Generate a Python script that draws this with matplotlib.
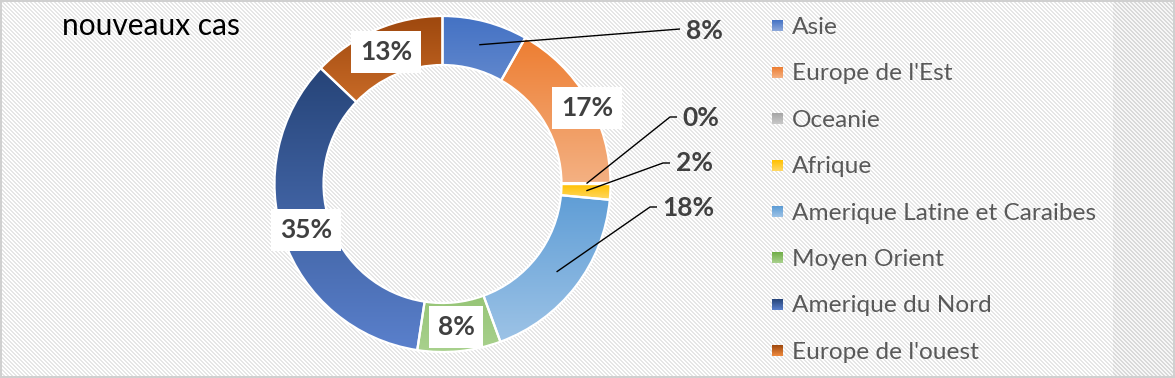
import numpy as np
import matplotlib
matplotlib.use("Agg")
import matplotlib.pyplot as plt
from matplotlib.colors import to_rgb

# ---------------- data ----------------
categories = ["Asie", "Europe de l'Est", "Oceanie", "Afrique",
              "Amerique Latine et Caraibes", "Moyen Orient",
              "Amerique du Nord", "Europe de l'ouest"]
values = [8.2, 16.7, 0.1, 1.5, 17.9, 8.0, 34.7, 12.9]
pct_labels = ["8%", "17%", "0%", "2%", "18%", "8%", "35%", "13%"]
title = "nouveaux cas"

# gradient colours (top, bottom)
grad_top = ["#4472C4", "#ED7D31", "#A5A5A5", "#FFC000",
            "#5B9BD5", "#70AD47", "#264478", "#9E480E"]
grad_bot = ["#8EA9DB", "#F4B183", "#C9C9C9", "#FFD966",
            "#9DC3E6", "#A9D18E", "#5A80CC", "#F08B3F"]

W, H = 1175, 378
fig = plt.figure(figsize=(W / 100, H / 100), dpi=100)
ax = fig.add_axes([0, 0, 1, 1])
ax.set_facecolor("none")

# ---------------- background pattern ----------------
yy, xx = np.mgrid[0:H, 0:W]
bg = np.ones((H, W, 3))
stripe = ((xx - yy) % 4) < 2
bg[stripe] = to_rgb("#e6e6e6")
right = xx >= 1113
bg[right & stripe] = to_rgb("#d9d9d9")
bg[right & ~stripe] = to_rgb("#f7f7f7")
border = (xx < 2) | (xx >= W - 2) | (yy < 2) | (yy >= H - 2)
bg[border] = to_rgb("#d0d0d0")
ax.imshow(bg, extent=(0, W, 0, H), origin="upper", aspect="auto",
          zorder=0, interpolation="nearest")


def Y(ypix):
    return H - ypix


cx, cy, R = 442.5, Y(184), 168
ring_w = 49

wedges, _ = ax.pie(values, startangle=90, counterclock=False,
                   center=(cx, cy), radius=R,
                   wedgeprops=dict(width=ring_w, edgecolor="white",
                                   linewidth=1.6))


def grad_img(ctop, cbot, n=256):
    t = np.linspace(0, 1, n)[:, None, None]
    a = np.array(to_rgb(ctop))[None, None, :]
    b = np.array(to_rgb(cbot))[None, None, :]
    return a * (1 - t) + b * t


for w, ct, cb in zip(wedges, grad_top, grad_bot):
    v = w.get_path().vertices
    x0, x1 = v[:, 0].min(), v[:, 0].max()
    y0, y1 = v[:, 1].min(), v[:, 1].max()
    im = ax.imshow(grad_img(ct, cb), extent=(x0, x1, y0, y1),
                   origin="upper", aspect="auto", zorder=1,
                   interpolation="bilinear")
    im.set_clip_path(w)
    w.set_facecolor("none")
    w.set_zorder(2)

# ---------------- labels ----------------
lab_font = dict(family="Lato", fontweight="bold", fontsize=19,
                color="#404040")

cum = np.cumsum([0] + values)
mids = [(cum[i] + cum[i + 1]) / 2 / 100 * 360 for i in range(len(values))]


def polar(ang, r):
    a = np.deg2rad(ang)
    return cx + r * np.sin(a), cy + r * np.cos(a)


# boxed labels: index -> label centre (pixels, y from top)
boxed = {1: (587, 108), 5: (456, 327), 6: (306, 230), 7: (386, 52)}
for i, (px, py) in boxed.items():
    t = ax.text(px, Y(py), pct_labels[i], ha="center", va="center",
                zorder=5, **lab_font)
    t.set_bbox(dict(boxstyle="square,pad=0.33", fc="white", ec="none"))

leaders = [
    (0, (680, 29), (680, 29), 686, 31),
    (2, (670, 117), (677, 117), 682, 118),
    (3, (663, 163), (670, 163), 676, 163),
    (4, (650, 207), (657, 207), 662, 208),
]
for i, (ex, ey), (lx, ly), tx, ty in leaders:
    sx, sy = polar(mids[i], 144)
    ax.plot([sx, ex, lx], [sy, Y(ey), Y(ly)], color="black", lw=1.0,
            zorder=6, solid_capstyle="butt")
    ax.text(tx, Y(ty), pct_labels[i], ha="left", va="center", zorder=6,
            **lab_font)

# ---------------- title ----------------
ax.text(62, Y(26), title, ha="left", va="center", fontsize=21.5,
        family="Lato", color="black", zorder=6)

# ---------------- legend ----------------
leg_y0, leg_dy = 26, 46.4
for k, (name, ct, cb) in enumerate(zip(categories, grad_top, grad_bot)):
    yc = leg_y0 + k * leg_dy
    ax.imshow(grad_img(ct, cb), extent=(772, 783, Y(yc + 5.5), Y(yc - 5.5)),
              origin="upper", aspect="auto", zorder=3,
              interpolation="bilinear")
    ax.text(792, Y(yc + 8), name, ha="left", va="baseline", fontsize=17.6,
            family="Lato", color="#595959", zorder=6)

ax.set_xlim(0, W)
ax.set_ylim(0, H)
ax.set_aspect("auto")
ax.axis("off")

fig.savefig("out.png", dpi=100)
